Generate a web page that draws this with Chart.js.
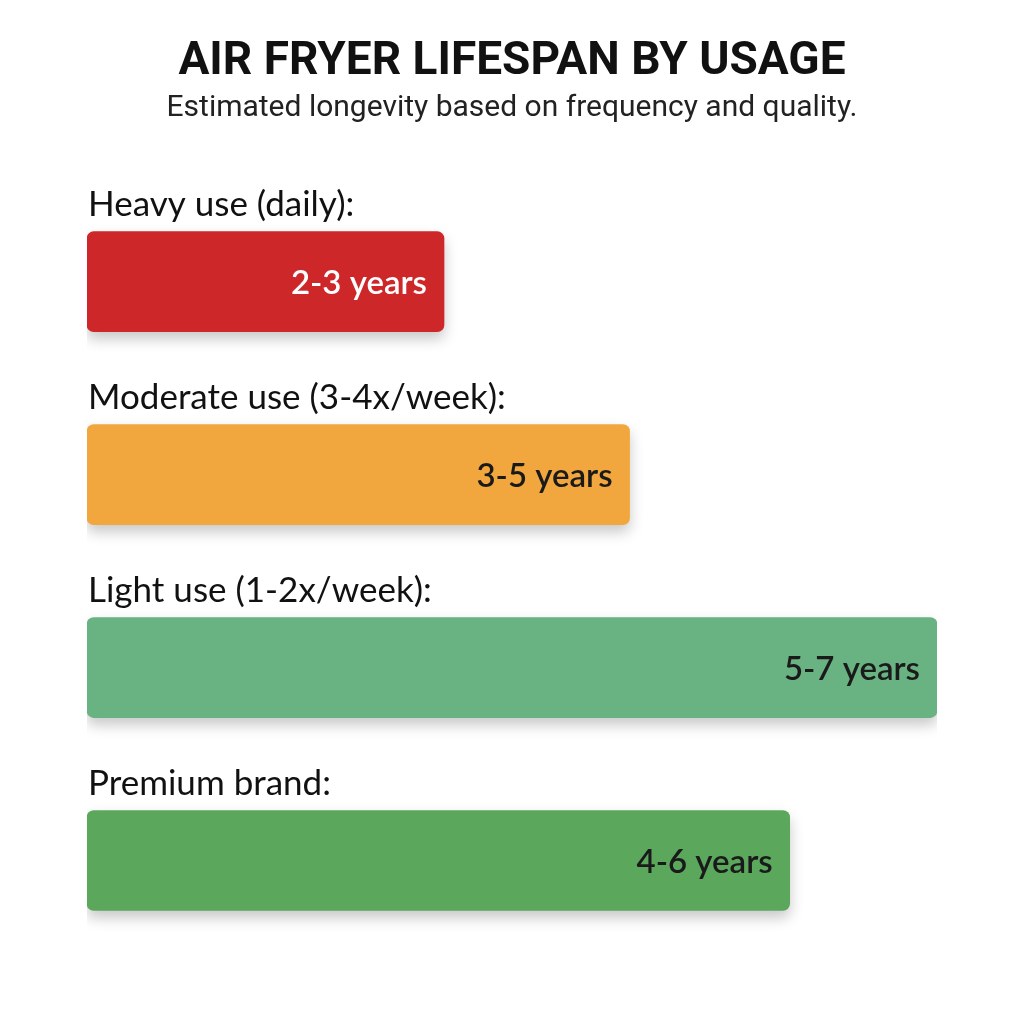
<!DOCTYPE html>
<html>
<head>
<meta charset="utf-8">
<script src="https://cdn.jsdelivr.net/npm/chart.js@4"></script>
<style>
  html, body { margin: 0; padding: 0; background: #ffffff; }
  #wrap { width: 1024px; height: 1024px; }
</style>
</head>
<body>
<div id="wrap"><canvas id="lifespanChart" width="1024" height="1024"></canvas></div>
<script>
// datos del grafico
const categorias = ["Heavy use (daily):", "Moderate use (3-4x/week):", "Light use (1-2x/week):", "Premium brand:"];
const rangos = ["2-3 years", "3-5 years", "5-7 years", "4-6 years"];
const anios = [2.52, 3.83, 6, 4.96];
const colores = ["#cd2729", "#f1a73e", "#69b282", "#5ba85d"];
const coloresTexto = ["#ffffff", "#1a1a1a", "#1a1a1a", "#1a1a1a"];

// sombra suave debajo de las barras
const sombraBarras = {
    id: "sombraBarras",
    beforeDatasetsDraw(chart) {
        const c = chart.ctx;
        c.save();
        c.shadowColor = "rgba(0,0,0,0.22)";
        c.shadowBlur = 14;
        c.shadowOffsetY = 7;
    },
    afterDatasetsDraw(chart) {
        chart.ctx.restore();
    }
};

// etiquetas encima de cada barra y el rango dentro
const etiquetas = {
    id: "etiquetas",
    afterDatasetsDraw(chart) {
        const c = chart.ctx;
        const meta = chart.getDatasetMeta(0);
        c.save();
        meta.data.forEach((bar, i) => {
            const top = bar.y - bar.height / 2;
            c.font = "35px Lato";
            c.fillStyle = "#111111";
            c.textAlign = "left";
            c.textBaseline = "alphabetic";
            c.fillText(categorias[i], chart.chartArea.left + 1, top - 16);

            c.font = "600 33px Lato";
            c.fillStyle = coloresTexto[i];
            c.textAlign = "right";
            c.textBaseline = "middle";
            c.fillText(rangos[i], bar.x - 17, bar.y + 2);
        });
        c.restore();
    }
};

const ctx = document.getElementById("lifespanChart").getContext("2d");
const chart = new Chart(ctx, {
    type: "bar",
    data: {
        labels: categorias,
        datasets: [{
            data: anios,
            backgroundColor: colores,
            borderRadius: 7,
            borderSkipped: false,
            barThickness: 100
        }]
    },
    options: {
        indexAxis: "y",
        responsive: false,
        animation: false,
        layout: { padding: { left: 87, right: 87, bottom: 67, top: 0 } },
        scales: {
            x: { display: false, min: 0, max: 6 },
            y: { display: false }
        },
        plugins: {
            legend: { display: false },
            tooltip: { enabled: false },
            title: {
                display: true,
                text: "AIR FRYER LIFESPAN BY USAGE",
                color: "#111111",
                font: { family: "Roboto", size: 46, weight: "bold", lineHeight: 1.2 },
                padding: { top: 35, bottom: 0 }
            },
            subtitle: {
                display: true,
                text: "Estimated longevity based on frequency and quality.",
                color: "#222222",
                font: { family: "Roboto", size: 30, lineHeight: 1.2 },
                padding: { top: 0, bottom: 59 }
            }
        }
    },
    plugins: [sombraBarras, etiquetas]
});
</script>
</body>
</html>
